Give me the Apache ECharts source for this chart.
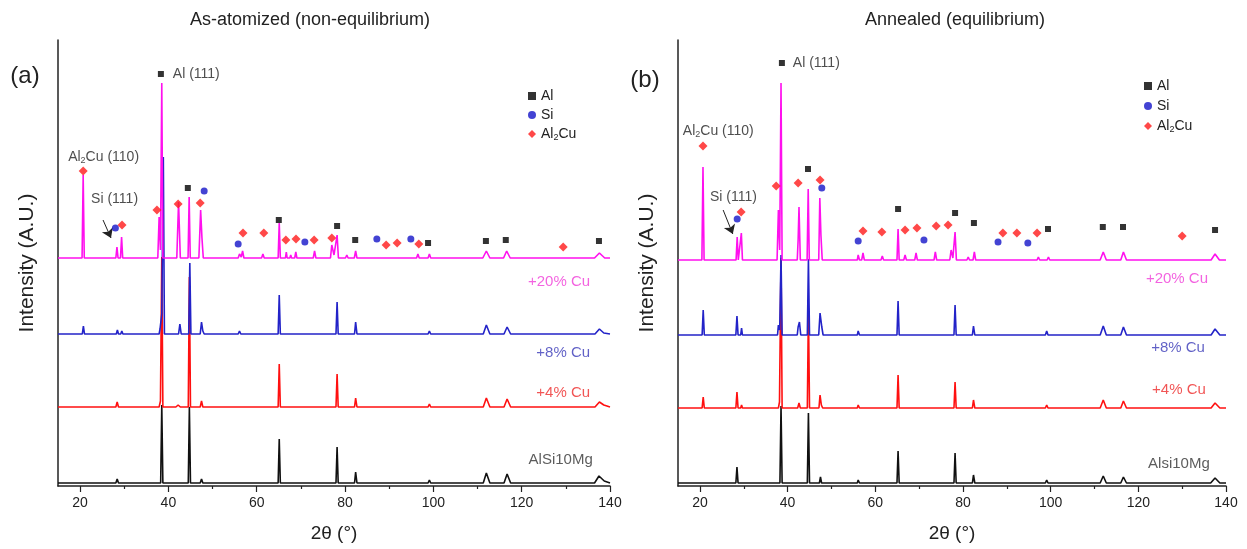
<!DOCTYPE html>
<html>
<head>
<meta charset="utf-8">
<script src="https://cdn.jsdelivr.net/npm/echarts@6/dist/echarts.min.js"></script>
<style>
html,body{margin:0;padding:0;background:#fff;}
#chart{width:1247px;height:549px;}
</style>
</head>
<body>
<div id="chart"></div>
<script>
// ---------- DATA ----------
const X_MAJOR_TICKS = [20, 40, 60, 80, 100, 120, 140];
const X_MINOR_TICKS = [30, 50, 70, 90, 110, 130];
const PANEL_TITLES = ['As-atomized (non-equilibrium)', 'Annealed (equilibrium)'];
const PANEL_LETTERS = ['(a)', '(b)'];
const SAMPLE_NAMES_A = ['AlSi10Mg', '+4% Cu', '+8% Cu', '+20% Cu'];
const SAMPLE_NAMES_B = ['Alsi10Mg', '+4% Cu', '+8% Cu', '+20% Cu'];
// vertical stacking offsets (arbitrary intensity units) for [AlSi10Mg, +4%, +8%, +20%]
const OFFSETS_A = [3, 79, 152, 228];
const OFFSETS_B = [3, 78, 151, 226];

// ---- Panel (a) As-atomized patterns: [2theta, intensity] ----
const A_BASE = [[15,0],[28.1,0],[28.4,4],[28.7,0],[38.25,0],[38.5,78],[38.75,0],[44.5,0],[44.75,76],[45.0,0],
  [47.2,0],[47.5,4],[47.8,0],[55.9,0],[56.1,2],[56.3,0],[64.85,0],[65.1,44],[65.35,0],[77.95,0],[78.2,36],[78.45,0],
  [82.15,0],[82.4,11],[82.7,0],[98.8,0],[99.1,3],[99.4,0],[111.3,0],[112.0,10],[112.8,0],[116.0,0],[116.7,9],[117.5,0],
  [136.5,0],[137.5,7],[138.7,2],[140,0]];
const A_CU4 = [[15,0],[28.1,0],[28.4,5],[28.7,0],[37.9,0],[38.2,6],[38.5,150],[38.75,0],[41.7,0],[42.2,2],[42.7,0],
  [44.5,0],[44.75,130],[45.0,0],[47.2,0],[47.5,6],[47.8,0],[55.9,0],[56.1,2],[56.3,0],[64.85,0],[65.1,43],[65.35,0],
  [77.95,0],[78.2,33],[78.45,0],[82.15,0],[82.4,9],[82.7,0],[98.8,0],[99.1,3],[99.4,0],[111.3,0],[112.0,9],[112.8,0],
  [116.0,0],[116.7,8],[117.5,0],[136.6,0],[137.6,5],[138.6,2],[140,0]];
const A_CU8 = [[15,0],[20.5,0],[20.75,8],[21.0,0],[28.2,0],[28.45,4],[28.7,0],[29.2,0],[29.45,3],[29.7,0],
  [37.9,0],[38.1,5],[38.5,20],[38.85,177],[39.1,0],[42.3,0],[42.6,10],[42.9,0],[44.6,0],[44.85,71],[45.1,0],
  [47.2,0],[47.5,12],[47.8,3],[48.1,0],[55.8,0],[56.1,3],[56.4,0],[64.85,0],[65.1,39],[65.35,0],
  [69.0,0],[69.2,2],[69.4,0],[73.2,0],[73.5,2],[73.8,0],[77.95,0],[78.2,32],[78.45,0],[82.15,0],[82.4,12],[82.7,0],
  [98.8,0],[99.1,3],[99.4,0],[111.3,0],[112.0,9],[112.8,0],[116.0,0],[116.7,7],[117.5,0],[136.6,0],[137.6,5],[138.6,1],[140,0]];
const A_CU20 = [[15,0],[20.45,0],[20.7,83],[20.95,0],[28.1,0],[28.35,11],[28.6,0],[29.15,0],[29.4,21],[29.65,0],
  [37.6,0],[37.9,41],[38.2,8],[38.5,175],[38.75,0],[41.9,0],[42.3,56],[42.7,0],[44.45,0],[44.7,61],[44.95,0],
  [46.9,0],[47.3,48],[47.6,20],[47.9,0],[55.8,0],[56.1,4],[56.5,1],[56.8,7],[57.1,0],[61.1,0],[61.4,4],[61.7,0],
  [64.85,0],[65.1,35],[65.35,0],[66.5,0],[66.7,6],[66.9,0],[67.5,0],[67.7,3],[67.9,0],[68.6,0],[68.85,6],[69.1,0],
  [72.8,0],[73.1,7],[73.4,0],[76.7,0],[77.0,13],[77.5,3],[78.2,23],[78.5,0],[80.1,0],[80.4,3],[80.7,0],
  [82.1,0],[82.4,7],[82.7,0],[86.0,0],[86.3,2],[86.6,0],[96.2,0],[96.5,4],[96.8,0],[98.8,0],[99.1,4],[99.4,0],
  [111.2,0],[112.0,7],[112.8,0],[115.9,0],[116.6,7],[117.4,0],[118.6,0],[119.0,2],[119.4,0],[136.5,0],[137.6,5],[138.8,0],[140,0]];

// ---- Panel (b) Annealed patterns ----
const B_BASE = [[15,0],[28.2,0],[28.45,16],[28.7,0],[38.25,0],[38.5,77],[38.75,0],[41.6,0],[41.8,2],[42.0,0],
  [44.5,0],[44.75,70],[45.0,0],[47.25,0],[47.5,6],[47.75,0],[55.9,0],[56.1,3],[56.4,0],[64.95,0],[65.2,32],[65.45,0],
  [77.95,0],[78.2,30],[78.45,0],[82.15,0],[82.4,8],[82.7,0],[88.2,0],[88.4,1],[88.6,0],[98.8,0],[99.1,3],[99.4,0],
  [111.3,0],[112.0,7],[112.7,0],[116.0,0],[116.6,6],[117.3,0],[136.5,0],[137.5,5],[138.6,0],[140,0]];
const B_CU4 = [[15,0],[20.5,0],[20.75,11],[21.0,0],[28.2,0],[28.45,16],[28.7,0],[29.3,0],[29.5,3],[29.7,0],
  [37.9,0],[38.15,6],[38.5,150],[38.75,0],[42.3,0],[42.6,5],[42.9,0],[44.5,0],[44.75,100],[45.0,0],
  [47.15,0],[47.4,13],[47.7,3],[48.0,0],[55.9,0],[56.1,3],[56.4,0],[64.95,0],[65.2,33],[65.45,0],
  [77.95,0],[78.2,26],[78.45,0],[82.15,0],[82.4,8],[82.7,0],[98.8,0],[99.1,3],[99.4,0],[111.3,0],[112.0,8],[112.7,0],
  [116.0,0],[116.6,7],[117.3,0],[136.6,0],[137.5,5],[138.6,0],[140,0]];
const B_CU8 = [[15,0],[20.5,0],[20.75,25],[21.0,0],[28.2,0],[28.45,19],[28.7,0],[29.3,0],[29.5,7],[29.7,0],
  [37.7,0],[37.9,10],[38.2,5],[38.5,80],[38.75,0],[42.2,0],[42.4,8],[42.7,13],[43.0,0],[44.5,0],[44.75,76],[45.0,0],
  [47.1,0],[47.4,22],[47.8,8],[48.1,0],[55.9,0],[56.1,4],[56.4,0],[64.95,0],[65.2,34],[65.45,0],
  [69.0,0],[69.3,2],[69.6,0],[73.4,0],[73.7,2],[74.0,0],[77.95,0],[78.2,30],[78.45,0],[82.15,0],[82.4,9],[82.7,0],
  [98.8,0],[99.1,4],[99.4,0],[111.3,0],[112.0,9],[112.7,0],[116.0,0],[116.6,8],[117.3,0],[136.6,0],[137.5,6],[138.6,0],[140,0]];
const B_CU20 = [[15,0],[20.45,0],[20.7,93],[20.95,0],[28.25,0],[28.5,23],[28.75,0],[29.2,0],[29.45,27],[29.7,0],
  [37.6,0],[37.9,50],[38.2,10],[38.5,177],[38.75,0],[42.2,0],[42.4,20],[42.6,53],[42.9,0],[44.45,0],[44.7,71],[44.95,0],
  [47.1,0],[47.35,62],[47.6,25],[47.9,0],[55.9,0],[56.1,5],[56.4,0],[56.9,0],[57.2,7],[57.5,0],[61.3,0],[61.6,4],[61.9,0],
  [64.95,0],[65.2,31],[65.45,0],[66.5,0],[66.8,5],[67.1,0],[69.0,0],[69.3,7],[69.6,0],[73.4,0],[73.7,8],[74.0,0],
  [77.0,0],[77.3,10],[77.7,2],[78.2,28],[78.5,0],[80.9,0],[81.2,3],[81.5,0],[82.3,0],[82.6,8],[82.9,0],
  [89.0,0],[89.2,2],[89.4,0],[92.1,0],[92.3,2],[92.5,0],[94.6,0],[94.8,2],[95.0,0],[96.9,0],[97.2,3],[97.5,0],
  [99.2,0],[99.5,3],[99.8,0],[111.3,0],[112.0,8],[112.7,0],[113.5,0],[113.8,2],[114.1,0],[116.0,0],[116.6,8],[117.3,0],
  [118.5,0],[118.8,2],[119.1,0],[136.6,0],[137.5,6],[138.5,0],[140,0]];

// ---- Phase markers [2theta, intensity] ----
const A_AL_MARKS = [[38.3,412],[44.4,298],[65.0,266],[78.2,260],[82.3,246],[98.8,243],[111.9,245],[116.4,246],[137.5,245]];
const A_SI_MARKS = [[28.0,258],[48.1,295],[55.8,242],[70.9,244],[87.2,247],[94.9,247]];
const A_AL2CU_MARKS = [[20.7,315],[29.5,261],[37.4,276],[42.2,282],[47.2,283],[56.9,253],[61.6,253],[66.6,246],
  [68.9,247],[73.0,246],[77.0,248],[89.3,241],[91.8,243],[96.7,242],[129.4,239]];
const B_AL_MARKS = [[38.7,423],[44.65,317],[65.2,277],[78.2,273],[82.5,263],[99.4,257],[111.9,259],[116.5,259],[137.5,256]];
const B_SI_MARKS = [[28.5,267],[47.8,298],[56.1,245],[71.1,246],[88.0,244],[94.8,243]];
const B_AL2CU_MARKS = [[20.7,340],[29.4,274],[37.4,300],[42.4,303],[47.4,306],[57.2,255],[61.5,254],[66.8,256],
  [69.5,258],[73.9,260],[76.6,261],[89.1,253],[92.3,253],[96.9,253],[130.0,250]];

// ---- Text annotations [2theta, intensity, text, align] ----
const A_NOTES = [[41.0,412,'Al (111)','left'],[17.3,329,'{n|Al}{s|2}{n|Cu (110)}','left'],[22.5,287,'Si (111)','left']];
const B_NOTES = [[41.2,423,'Al (111)','left'],[16.1,355,'{n|Al}{s|2}{n|Cu (110)}','left'],[22.3,289,'Si (111)','left']];
const A_SAMPLE_LABEL_POS = [[136.1,26],[135.5,93],[135.5,133],[135.5,204]];
const B_SAMPLE_LABEL_POS = [[136.3,22],[135.4,96],[135.2,138],[135.9,207]];
// arrows pointing to Si (111): [[x1,y1],[x2,y2]]
const A_ARROW = [[25.2,266],[27.0,248]];
const B_ARROW = [[25.3,276],[27.5,252]];

// ---------- STYLE ----------
const FONT = 'Liberation Sans, Arial, sans-serif';
const LINE_COLORS = ['#111111', '#ff1010', '#2323c8', '#ff10ee'];
const LABEL_COLORS = ['#333333', '#ee2a2a', '#3a3ab8', '#f03cd8'];
const PHASE_NAMES = ['Al', 'Si', 'Al2Cu'];
const PHASE_COLORS = ['#000000', '#1414c8', '#ff1a1a'];
const PHASE_SYMBOLS = ['rect', 'circle', 'diamond'];
const PHASE_SIZES = [6, 7, 9];

const grids = [
  {left: 58, top: 40, width: 552, height: 446},
  {left: 678, top: 40, width: 548, height: 446}
];

const xAxes = [], yAxes = [];
[0, 1].forEach(g => {
  xAxes.push({
    type: 'value', gridIndex: g, min: 15, max: 140, position: 'bottom',
    axisLine: {show: true, onZero: false, lineStyle: {color: '#222', width: 1.5}},
    axisTick: {show: true, customValues: X_MAJOR_TICKS, length: 6, inside: false, lineStyle: {color: '#222', width: 1.2}},
    axisLabel: {show: true, customValues: X_MAJOR_TICKS, fontSize: 14, color: '#222', margin: 10, fontFamily: FONT},
    splitLine: {show: false},
    name: '2θ (°)', nameLocation: 'middle', nameGap: 38,
    nameTextStyle: {fontSize: 19, color: '#222', fontFamily: FONT}
  });
  xAxes.push({
    type: 'value', gridIndex: g, min: 15, max: 140, position: 'bottom',
    axisLine: {show: false, onZero: false},
    axisTick: {show: true, customValues: X_MINOR_TICKS, length: 3, inside: false, lineStyle: {color: '#222', width: 1.2}},
    axisLabel: {show: false},
    splitLine: {show: false}
  });
  yAxes.push({
    type: 'value', gridIndex: g, min: 0, max: 446,
    axisLine: {show: true, lineStyle: {color: '#222', width: 1.5}},
    axisTick: {show: false}, axisLabel: {show: false}, splitLine: {show: false},
    name: 'Intensity (A.U.)', nameLocation: 'middle', nameGap: 20, nameRotate: 90,
    nameTextStyle: {fontSize: 21, color: '#222', fontFamily: FONT}
  });
});

const shift = (pts, off) => pts.map(p => [p[0], p[1] + off]);

const series = [];
const panels = [
  {patterns: [A_BASE, A_CU4, A_CU8, A_CU20], offsets: OFFSETS_A, marks: [A_AL_MARKS, A_SI_MARKS, A_AL2CU_MARKS],
   notes: A_NOTES, names: SAMPLE_NAMES_A, labelPos: A_SAMPLE_LABEL_POS, arrow: A_ARROW},
  {patterns: [B_BASE, B_CU4, B_CU8, B_CU20], offsets: OFFSETS_B, marks: [B_AL_MARKS, B_SI_MARKS, B_AL2CU_MARKS],
   notes: B_NOTES, names: SAMPLE_NAMES_B, labelPos: B_SAMPLE_LABEL_POS, arrow: B_ARROW}
];

panels.forEach((p, g) => {
  const xi = g * 2, yi = g;
  p.patterns.forEach((pat, i) => {
    series.push({
      type: 'line', name: p.names[i], xAxisIndex: xi, yAxisIndex: yi,
      data: shift(pat, p.offsets[i]), showSymbol: false, symbol: 'none',
      lineStyle: {color: LINE_COLORS[i], width: 1.6}, silent: true, z: 2 + i
    });
  });
  p.marks.forEach((m, k) => {
    series.push({
      type: 'scatter', name: PHASE_NAMES[k], xAxisIndex: xi, yAxisIndex: yi,
      data: m, symbol: PHASE_SYMBOLS[k], symbolSize: PHASE_SIZES[k],
      itemStyle: {color: PHASE_COLORS[k]}, z: 10, silent: true
    });
  });
  // text annotations + arrow
  const noteData = p.notes.map(n => ({
    value: [n[0], n[1]],
    label: {show: true, position: 'inside', align: n[3], verticalAlign: 'middle', formatter: n[2],
      fontSize: 14, color: '#222', fontFamily: FONT,
      rich: {n: {fontSize: 14, color: '#222', fontFamily: FONT}, s: {fontSize: 9, color: '#222', fontFamily: FONT, padding: [8, 0, 0, 0]}}}
  }));
  p.labelPos.forEach((lp, i) => {
    noteData.push({
      value: lp,
      label: {show: true, position: 'inside', align: 'right', verticalAlign: 'middle', formatter: p.names[i],
        fontSize: 15, color: LABEL_COLORS[i], fontFamily: FONT}
    });
  });
  series.push({
    type: 'scatter', name: 'notes' + g, xAxisIndex: xi, yAxisIndex: yi,
    data: noteData, symbolSize: 1, itemStyle: {color: 'rgba(0,0,0,0)'}, z: 12, silent: true,
    markLine: {
      silent: true, symbol: ['none', 'arrow'], symbolSize: 9,
      lineStyle: {color: '#222', width: 1, type: 'solid'}, itemStyle: {color: '#222'}, label: {show: false},
      data: [[{coord: p.arrow[0]}, {coord: p.arrow[1]}]]
    }
  });
});

const legendBase = {
  data: PHASE_NAMES, orient: 'vertical', itemWidth: 8, itemHeight: 8, itemGap: 5, itemTextGap: 12,
  selectedMode: false,
  textStyle: {fontSize: 14, color: '#222', fontFamily: FONT,
    rich: {n: {fontSize: 14, color: '#222', fontFamily: FONT}, s: {fontSize: 9, color: '#222', fontFamily: FONT, padding: [8, 0, 0, 0]}}},
  formatter: name => name === 'Al2Cu' ? '{n|Al}{s|2}{n|Cu}' : '{n|' + name + '}'
};

const graphics = [
  {type: 'text', x: 310, y: 20, style: {text: PANEL_TITLES[0], textAlign: 'center', textVerticalAlign: 'middle', font: '18px ' + FONT, fill: '#222'}},
  {type: 'text', x: 955, y: 20, style: {text: PANEL_TITLES[1], textAlign: 'center', textVerticalAlign: 'middle', font: '18px ' + FONT, fill: '#222'}},
  {type: 'text', x: 25, y: 76, style: {text: PANEL_LETTERS[0], textAlign: 'center', textVerticalAlign: 'middle', font: '24px ' + FONT, fill: '#222'}},
  {type: 'text', x: 645, y: 80, style: {text: PANEL_LETTERS[1], textAlign: 'center', textVerticalAlign: 'middle', font: '24px ' + FONT, fill: '#222'}}
];

const chart = echarts.init(document.getElementById('chart'), null, {renderer: 'canvas'});
chart.setOption({
  backgroundColor: '#ffffff',
  animation: false,
  grid: grids,
  xAxis: xAxes,
  yAxis: yAxes,
  legend: [
    Object.assign({}, legendBase, {left: 523, top: 84}),
    Object.assign({}, legendBase, {left: 1139, top: 74, itemGap: 6})
  ],
  graphic: graphics,
  series: series
});
</script>
</body>
</html>
